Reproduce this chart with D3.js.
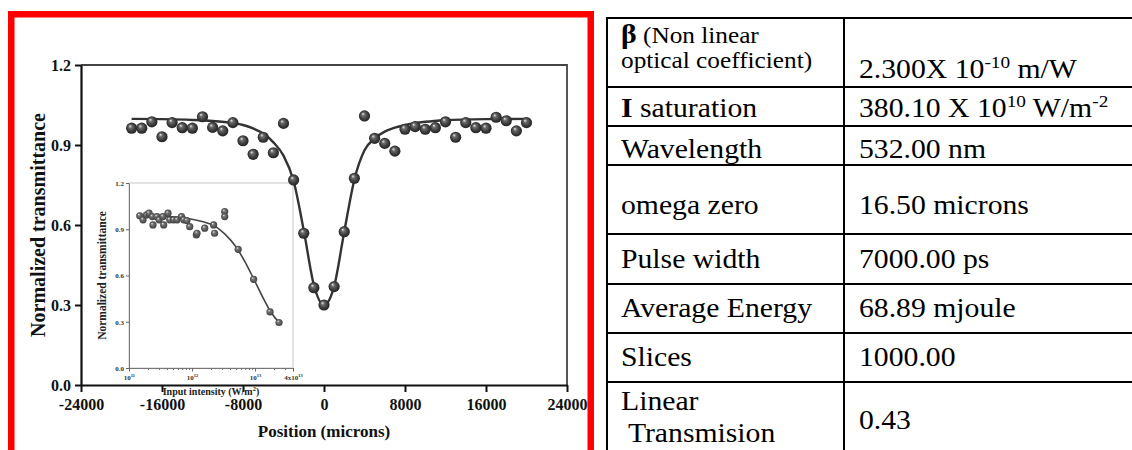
<!DOCTYPE html>
<html>
<head>
<meta charset="utf-8">
<script src="https://cdn.jsdelivr.net/npm/d3@7"></script>
<style>
  body { margin: 0; background: #fff; }
  svg { display: block; }
  text { font-family: "Liberation Serif", "Times New Roman", serif; }
</style>
</head>
<body>
<div id="chart"></div>
<script>
// ---- datos ----
const positions = [-19000, -18000, -17000, -16000, -15000, -14000, -13000, -12000, -11000, -10000,
                   -9000, -8000, -7000, -6000, -5000, -4000, -3000, -2000, -1000, 0,
                   1000, 2000, 3000, 4000, 5000, 6000, 7000, 8000, 9000, 10000,
                   11000, 12000, 13000, 14000, 15000, 16000, 17000, 18000, 19000, 20000];
const transmittance = [0.963, 0.963, 0.987, 0.931, 0.984, 0.965, 0.963, 1.006, 0.966, 0.953,
                       0.984, 0.916, 0.865, 0.929, 0.871, 0.981, 0.769, 0.569, 0.365, 0.300,
                       0.369, 0.575, 0.775, 1.009, 0.925, 0.906, 0.877, 0.959, 0.969, 0.959,
                       0.965, 0.987, 0.929, 0.984, 0.965, 0.963, 1.004, 0.991, 0.953, 0.984];

const fitPositions = [-19000, -16000, -13000, -11000, -9000, -8000, -7000, -6000, -5000, -4000,
                      -3000, -2000, -1000, 0, 1000, 2000, 3000, 4000, 5000, 6000,
                      7000, 8000, 10000, 12000, 16000, 20000];
const fitValues = [0.998, 0.997, 0.994, 0.99, 0.982, 0.975, 0.962, 0.943, 0.91, 0.86,
                   0.765, 0.58, 0.375, 0.30, 0.37, 0.575, 0.77, 0.88, 0.925, 0.95,
                   0.965, 0.975, 0.987, 0.993, 0.997, 0.998];

const insetIntensity = [1.48e11, 1.67e11, 1.9e11, 2.08e11, 2.35e11, 2.4e11, 2.78e11, 3.0e11, 3.46e11, 3.55e11,
                        4.16e11, 4.43e11, 5.1e11, 5.8e11, 6.8e11, 7.4e11, 8.3e11, 9.2e11, 1.17e12, 1.2e12,
                        1.59e12, 2.2e12, 2.28e12, 3.3e12, 3.3e12, 5.4e12, 9.5e12, 1.73e13, 2.4e13];
const insetTransmittance = [0.987, 0.961, 0.993, 1.004, 0.982, 0.928, 0.982, 0.961, 0.982, 0.928,
                            1.004, 0.961, 0.961, 0.961, 0.982, 0.961, 0.956, 0.917, 0.863, 0.874,
                            0.907, 0.928, 0.874, 1.015, 0.982, 0.77, 0.575, 0.364, 0.295];

const insetFitIntensity = [1.4e11, 2e11, 3e11, 5e11, 7e11, 1e12, 1.5e12, 2.2e12, 3.3e12, 5e12,
                           7e12, 1e13, 1.4e13, 1.8e13, 2.4e13];
const insetFitValues = [0.99, 0.988, 0.985, 0.98, 0.975, 0.965, 0.948, 0.925, 0.87, 0.785,
                        0.685, 0.56, 0.44, 0.36, 0.295];

const xTicks = [-24000, -16000, -8000, 0, 8000, 16000, 24000];
const yTicks = [0.0, 0.3, 0.6, 0.9, 1.2];
const insetXTicks = [1e11, 1e12, 1e13, 4e13];
const insetXTickLabels = ["10^11^", "10^12^", "10^13^", "4x10^13^"];

// tabla de parametros: *negrita*, ~pequena~, ^superindice^, | salto de linea
const paramLabels = ["*β*~ (Non linear~|~optical coefficient)~", "*I* saturation", "Wavelength", "omega zero",
                     "Pulse width", "Average Energy", "Slices", "Linear| Transmision"];
const paramValues = ["2.300X 10^-10^ m/W", "380.10 X 10^10^ W/m^-2^", "532.00 nm", "16.50 microns",
                     "7000.00 ps", "68.89 mjoule", "1000.00", "0.43"];

// ---- layout ----
const W = 1132, H = 450;
const serif = "'Liberation Serif', 'Times New Roman', serif";
const plot = { left: 81, right: 567, top: 65, bottom: 385 };
const inset = { left: 129, right: 293, top: 183, bottom: 368 };
const table = { left: 607, mid: 844, right: 1160, pad: 14, font: 27, small: 23, sx: 1.1 };
const rowLines = [18, 87, 126, 165, 234, 284, 333, 382, 455];
const labelBaselines = [[43, 68], [117], [158], [214], [268], [317], [366], [410, 442]];
const valueBaselines = [78, 117, 158, 214, 268, 317, 366, 429];

const svg = d3.select("#chart").append("svg")
    .attr("width", W)
    .attr("height", H);

const defs = svg.append("defs");
function ball(id, stops) {
    const g = defs.append("radialGradient").attr("id", id)
        .attr("cx", "50%").attr("cy", "50%").attr("r", "55%")
        .attr("fx", "35%").attr("fy", "30%");
    stops.forEach(s => g.append("stop").attr("offset", s[0]).attr("stop-color", s[1]));
}
ball("ball", [["0%", "#e8e8e8"], ["28%", "#6a6a6a"], ["70%", "#363636"], ["100%", "#202020"]]);
ball("ballSmall", [["0%", "#eeeeee"], ["30%", "#777777"], ["100%", "#3a3a3a"]]);

// marco rojo
svg.append("path")
    .attr("d", `M11.25,${H + 10} V14.25 H590.75 V${H + 10}`)
    .attr("fill", "none")
    .attr("stroke", "#ff0000")
    .attr("stroke-width", 6.5);

// ---- grafico principal ----
const x = d3.scaleLinear().domain([-24000, 24000]).range([plot.left, plot.right]);
const y = d3.scaleLinear().domain([0, 1.2]).range([plot.bottom, plot.top]);

// marco superior / derecho
svg.append("path")
    .attr("d", `M${plot.left},${plot.top} H${plot.right} V${plot.bottom}`)
    .attr("fill", "none")
    .attr("stroke", "#444")
    .attr("stroke-width", 1.8);

const xAxis = svg.append("g")
    .attr("transform", `translate(0,${plot.bottom})`)
    .call(d3.axisBottom(x).tickValues(xTicks).tickSize(7).tickSizeOuter(0).tickPadding(7)
        .tickFormat(d => String(d)));
const yAxis = svg.append("g")
    .attr("transform", `translate(${plot.left},0)`)
    .call(d3.axisLeft(y).tickValues(yTicks).tickSize(6).tickSizeOuter(0).tickPadding(4)
        .tickFormat(d3.format(".1f")));

[xAxis, yAxis].forEach(a => {
    a.select(".domain").attr("stroke", "#111").attr("stroke-width", 2.2);
    a.selectAll(".tick line").attr("stroke", "#111").attr("stroke-width", 2);
    a.selectAll("text")
        .attr("fill", "#111")
        .style("font-family", serif)
        .style("font-size", "16px")
        .style("font-weight", "bold");
});

svg.append("text")
    .attr("x", (plot.left + plot.right) / 2)
    .attr("y", 437)
    .attr("text-anchor", "middle")
    .style("font-family", serif)
    .style("font-size", "17px")
    .style("font-weight", "bold")
    .attr("fill", "#111")
    .text("Position (microns)");

svg.append("text")
    .attr("transform", `translate(45,${(plot.top + plot.bottom) / 2}) rotate(-90)`)
    .attr("text-anchor", "middle")
    .style("font-family", serif)
    .style("font-size", "20px")
    .style("font-weight", "bold")
    .attr("fill", "#111")
    .text("Normalized transmittance");

// ---- inserto ----
const xi = d3.scaleLog().domain([1e11, 4e13]).range([inset.left, inset.right]);
const yi = d3.scaleLinear().domain([0, 1.2]).range([inset.bottom, inset.top]);

svg.append("rect")
    .attr("x", inset.left).attr("y", inset.top)
    .attr("width", inset.right - inset.left)
    .attr("height", inset.bottom - inset.top)
    .attr("fill", "#fff")
    .attr("stroke", "#c8c8c8")
    .attr("stroke-width", 1);

const minorTicks = xi.ticks().filter(t => insetXTicks.indexOf(t) < 0);
svg.append("g")
    .attr("transform", `translate(0,${inset.bottom})`)
    .call(d3.axisBottom(xi).tickValues(minorTicks).tickSize(2).tickSizeOuter(0).tickFormat(""))
    .call(g => g.selectAll("line").attr("stroke", "#666"))
    .call(g => g.select(".domain").remove());

const xiAxis = svg.append("g")
    .attr("transform", `translate(0,${inset.bottom})`)
    .call(d3.axisBottom(xi).tickValues(insetXTicks).tickSize(3.5).tickSizeOuter(0).tickFormat(""));
const yiAxis = svg.append("g")
    .attr("transform", `translate(${inset.left},0)`)
    .call(d3.axisLeft(yi).tickValues(yTicks).tickSize(3).tickSizeOuter(0).tickPadding(2)
        .tickFormat(d3.format(".1f")));
[xiAxis, yiAxis].forEach(a => {
    a.select(".domain").attr("stroke", "#777").attr("stroke-width", 1);
    a.selectAll(".tick line").attr("stroke", "#666");
    a.selectAll("text")
        .attr("fill", "#333")
        .style("font-family", serif)
        .style("font-size", "7px")
        .style("font-weight", "bold");
});

// etiquetas log con superindice
xiAxis.selectAll(".tick").each(function(d, i) {
    const t = d3.select(this).append("text")
        .attr("y", 12)
        .attr("text-anchor", "middle")
        .attr("fill", "#333")
        .style("font-family", serif)
        .style("font-size", "7px")
        .style("font-weight", "bold");
    richText(t, insetXTickLabels[i], 7, 3);
});

svg.append("text")
    .attr("x", (inset.left + inset.right) / 2)
    .attr("y", 395)
    .attr("text-anchor", "middle")
    .style("font-family", serif)
    .style("font-size", "10px")
    .style("font-weight", "bold")
    .attr("fill", "#222")
    .call(t => richText(t, "Input intensity (W/m^2^)", 10, 4));

svg.append("text")
    .attr("transform", `translate(106,${(inset.top + inset.bottom) / 2}) rotate(-90)`)
    .attr("text-anchor", "middle")
    .style("font-family", serif)
    .style("font-size", "11.5px")
    .style("font-weight", "bold")
    .attr("fill", "#222")
    .text("Normalized transmittance");

svg.append("path")
    .datum(insetFitIntensity.map((v, i) => [v, insetFitValues[i]]))
    .attr("fill", "none")
    .attr("stroke", "#444")
    .attr("stroke-width", 1.6)
    .attr("d", d3.line().x(d => xi(d[0])).y(d => yi(d[1])).curve(d3.curveMonotoneX));

svg.append("g").selectAll("circle")
    .data(insetIntensity.map((v, i) => [v, insetTransmittance[i]]))
    .join("circle")
    .attr("cx", d => xi(d[0]))
    .attr("cy", d => yi(d[1]))
    .attr("r", 3.6)
    .attr("fill", "url(#ballSmall)");

// curva de ajuste y puntos del grafico principal
svg.append("path")
    .datum(fitPositions.map((v, i) => [v, fitValues[i]]))
    .attr("fill", "none")
    .attr("stroke", "#333")
    .attr("stroke-width", 2.4)
    .attr("d", d3.line().x(d => x(d[0])).y(d => y(d[1])).curve(d3.curveMonotoneX));

svg.append("g").selectAll("circle")
    .data(positions.map((p, i) => [p, transmittance[i]]))
    .join("circle")
    .attr("cx", d => x(d[0]))
    .attr("cy", d => y(d[1]))
    .attr("r", 5.6)
    .attr("fill", "url(#ball)");

// ---- tabla ----
const tbl = svg.append("g");
tbl.selectAll("line.h")
    .data(rowLines)
    .join("line")
    .attr("x1", table.left).attr("x2", table.right)
    .attr("y1", d => d).attr("y2", d => d)
    .attr("stroke", "#000").attr("stroke-width", 2);
tbl.selectAll("line.v")
    .data([table.left, table.mid])
    .join("line")
    .attr("x1", d => d).attr("x2", d => d)
    .attr("y1", rowLines[0] - 1).attr("y2", H + 10)
    .attr("stroke", "#000").attr("stroke-width", 2);

paramLabels.forEach((lab, r) => {
    lab.split("|").forEach((line, k) => {
        const t = tbl.append("text")
            .attr("transform", `translate(${table.left + table.pad},${labelBaselines[r][k]}) scale(${table.sx},1)`)
            .style("font-family", serif)
            .style("font-size", table.font + "px")
            .style("white-space", "pre")
            .attr("fill", "#000");
        richText(t, line, table.font, 10);
    });
});
paramValues.forEach((val, r) => {
    const t = tbl.append("text")
        .attr("transform", `translate(${table.mid + 15},${valueBaselines[r]}) scale(${table.sx},1)`)
        .style("font-family", serif)
        .style("font-size", table.font + "px")
        .style("white-space", "pre")
        .attr("fill", "#000");
    richText(t, val, table.font, 10);
});

// texto con *negrita*, ~pequeno~ y ^superindice^
function richText(sel, str, size, shift) {
    const parts = str.split(/(\*[^*]+\*|~[^~]+~|\^[^^]+\^)/).filter(s => s.length);
    let raised = false;
    parts.forEach(p => {
        const ts = sel.append("tspan");
        let dy = 0;
        if (p[0] === "^") {
            ts.text(p.slice(1, -1)).style("font-size", (size * 0.65) + "px");
            if (!raised) dy = -shift;
            raised = true;
        } else {
            if (raised) dy = shift;
            raised = false;
            if (p[0] === "*") ts.text(p.slice(1, -1)).style("font-weight", "bold");
            else if (p[0] === "~") ts.text(p.slice(1, -1)).style("font-size", table.small + "px");
            else ts.text(p);
        }
        if (dy) ts.attr("dy", dy);
    });
}
</script>
</body>
</html>
